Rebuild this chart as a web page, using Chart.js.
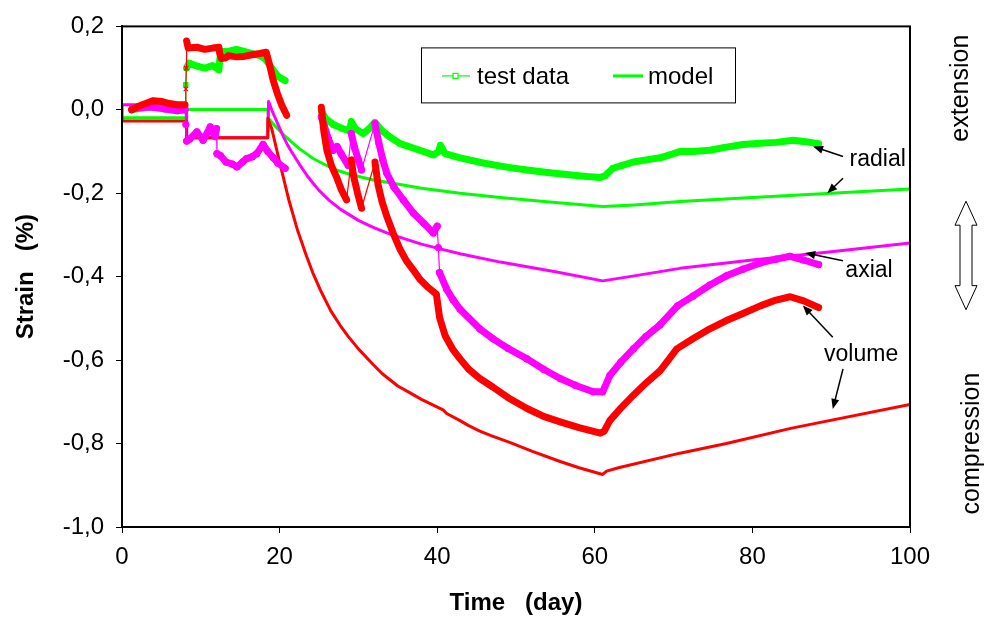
<!DOCTYPE html>
<html>
<head>
<meta charset="utf-8">
<script src="https://cdn.jsdelivr.net/npm/chart.js@4.4.0/dist/chart.umd.min.js"></script>
<style>
  html, body { margin: 0; padding: 0; background: #fff; }
  canvas { display: block; }
</style>
</head>
<body>
<canvas id="strainChart" width="988" height="618" style="width:988px;height:618px"></canvas>
<script>
// tick values
const timeTicks = [0, 20, 40, 60, 80, 100];
const strainTicks = [-1.0, -0.8, -0.6, -0.4, -0.2, 0.0, 0.2];

// test data [time (day), strain (%)], null = gap in recording
const volumeTest = [
  [1.2, 0.0], [2, 0.008], [3, 0.015], [4, 0.022], [5, 0.02], [6, 0.015], [7, 0.012], [8, 0.012],
  [8.1, 0.05], [8.15, 0.1], [8.2, 0.165], [8.4, 0.148], [9.5, 0.15], [10.5, 0.145], [11.5, 0.148],
  [12.3, 0.15], [12.4, 0.135], [12.6, 0.123], [13.2, 0.125], [13.5, 0.13], [14.5, 0.127], [15.5, 0.128],
  [16.5, 0.132], [17.5, 0.135], [18.3, 0.138], [18.7, 0.11], [19.2, 0.07], [19.7, 0.04], [20.3, 0.01],
  [20.9, -0.013], [23, null],
  [25.3, 0.006], [25.6, -0.05], [26, -0.097], [26.6, -0.135], [27.2, -0.16], [27.8, -0.19], [28.5, -0.216],
  [29.1, -0.12], [29.4, -0.16], [29.9, -0.2], [30.4, -0.236],
  [32.1, -0.125], [32.5, -0.18], [33, -0.22], [33.6, -0.255], [34.5, -0.3], [35.3, -0.335], [36.1, -0.362],
  [37, -0.385], [37.8, -0.406], [38.8, -0.425], [39.9, -0.442], [40.1, -0.47], [40.3, -0.498],
  [41, -0.541], [42, -0.575], [42.9, -0.597], [44, -0.622], [45.4, -0.644], [47.1, -0.665], [49, -0.69],
  [51.4, -0.716], [53.5, -0.735], [55.6, -0.748], [58, -0.762], [60.7, -0.775], [61.2, -0.77],
  [61.9, -0.745], [63.3, -0.715], [64.9, -0.684], [66.5, -0.655], [68.3, -0.625], [69.4, -0.598],
  [70.4, -0.573], [72.5, -0.548], [74.6, -0.525], [76.7, -0.505], [78.8, -0.488], [81, -0.47],
  [83, -0.456], [84.8, -0.448], [86.5, -0.458], [88.4, -0.474]
];
const axialTest = [
  [1.3, 0.002], [2.5, 0.006], [4, 0.006], [5.5, 0.002], [7, -0.002], [8, 0.0],
  [8.1, -0.035], [8.2, -0.075], [8.6, -0.07], [9.5, -0.053], [10.3, -0.073], [11.2, -0.041],
  [11.8, -0.064], [12.0, -0.045], [12.05, -0.105], [12.5, -0.11], [13.2, -0.125], [14, -0.13],
  [14.6, -0.137], [15.3, -0.125], [15.8, -0.117], [16.5, -0.113], [17.1, -0.105], [17.9, -0.083],
  [18.5, -0.1], [19.2, -0.115], [19.8, -0.128], [20.7, -0.14], [23, null],
  [25.3, -0.017], [25.7, -0.04], [26.2, -0.07], [26.8, -0.097], [27.3, -0.088], [27.8, -0.105],
  [28.7, -0.133], [29.1, -0.057], [29.5, -0.09], [30, -0.12], [30.4, -0.144],
  [32.1, -0.033], [32.6, -0.08], [33.1, -0.12], [33.6, -0.152], [34.5, -0.185], [35.7, -0.216],
  [37, -0.248], [38.3, -0.272], [39.5, -0.295], [40.0, -0.279], [40.15, -0.33], [40.3, -0.39],
  [41.2, -0.43], [42, -0.455], [42.9, -0.478], [45.4, -0.525], [47.1, -0.549], [49, -0.572],
  [51.4, -0.597], [53.5, -0.622], [55.6, -0.644], [57.5, -0.66], [59.8, -0.676], [61, -0.676],
  [61.9, -0.637], [63.3, -0.605], [64.9, -0.573], [66.5, -0.543], [68.3, -0.515], [70.5, -0.47],
  [72.5, -0.446], [74.6, -0.42], [76.7, -0.398], [78.8, -0.382], [81, -0.367], [83, -0.358],
  [84.8, -0.351], [86.5, -0.36], [88.4, -0.371]
];
const radialTest = [
  [1.3, 0.0], [2.5, 0.004], [4, 0.008], [5.5, 0.006], [7, 0.003], [8, 0.004],
  [8.1, 0.06], [8.2, 0.1], [8.5, 0.112], [9.5, 0.105], [10.5, 0.1], [11.5, 0.106], [12.3, 0.096],
  [12.4, 0.12], [12.6, 0.14], [13.5, 0.14], [14.5, 0.145], [15.5, 0.14], [16.5, 0.135], [17.5, 0.13],
  [18.2, 0.122], [19, 0.1], [19.8, 0.08], [20.7, 0.07], [23, null],
  [25.3, -0.002], [25.8, -0.02], [26.8, -0.035], [28, -0.045], [28.9, -0.05], [29.1, -0.028],
  [29.6, -0.045], [30.6, -0.057], [31.4, -0.045], [32.1, -0.03], [33, -0.05], [34, -0.065],
  [35.3, -0.081], [37.5, -0.095], [39.5, -0.108], [40.2, -0.1], [40.4, -0.085], [41, -0.105],
  [42.9, -0.115], [46, -0.128], [49, -0.138], [51.4, -0.144], [54, -0.15], [57, -0.156], [59, -0.16],
  [60.7, -0.162], [61.3, -0.158], [62.3, -0.14], [63.5, -0.133], [64.9, -0.125], [66.5, -0.12],
  [68.3, -0.115], [69.5, -0.108], [70.8, -0.1], [72.5, -0.1], [74.6, -0.097], [76.5, -0.09],
  [78.8, -0.083], [81, -0.08], [83, -0.078], [85.2, -0.073], [87, -0.077], [88.4, -0.081]
];

// model curves
const volumeModel = [
  [0, 0.01], [0, -0.027], [8.2, -0.027], [8.2, -0.067], [18.5, -0.067], [18.5, -0.02],
  [19.0, -0.045], [20.0, -0.125], [21.2, -0.218], [22.3, -0.29], [23.4, -0.35], [24.2, -0.39],
  [25.2, -0.433], [26.5, -0.482], [27.7, -0.517], [28.7, -0.543], [30, -0.573], [31.9, -0.611],
  [33, -0.632], [35, -0.662], [36.5, -0.678], [38, -0.694], [40.8, -0.72], [41.2, -0.728],
  [42.9, -0.745], [44, -0.757], [45.4, -0.77], [47, -0.782], [49.2, -0.797], [52, -0.818],
  [55.6, -0.843], [58, -0.858], [61, -0.874], [61.5, -0.866], [63, -0.858], [70.8, -0.823],
  [76.7, -0.8], [85, -0.763], [100, -0.706]
];
const axialModel = [
  [0, 0.012], [8.2, 0.012], [8.2, -0.067], [18.5, -0.067], [18.6, 0.02], [19.0, 0.0], [19.5, -0.022],
  [20.0, -0.044], [20.5, -0.065], [21.0, -0.084], [21.5, -0.1], [22.5, -0.13], [23.5, -0.158],
  [24.2, -0.175], [25, -0.193], [26.3, -0.217], [27.7, -0.238], [30, -0.265], [31.8, -0.281],
  [33.6, -0.295], [36, -0.31], [38, -0.322], [40.5, -0.334], [42.9, -0.345], [48, -0.365],
  [55, -0.388], [61, -0.41], [65, -0.398], [70.8, -0.38], [80, -0.36], [90, -0.34], [100, -0.319]
];
const radialModel = [
  [0, -0.019], [8.2, -0.019], [8.2, 0.001], [18.5, 0.001], [18.6, -0.02], [19.3, -0.036],
  [20, -0.05], [20.8, -0.065], [21.7, -0.08], [22.5, -0.093], [23.4, -0.105], [24.2, -0.116],
  [25.1, -0.125], [27, -0.143], [29, -0.155], [31.9, -0.168], [34.4, -0.176], [38, -0.188],
  [42.9, -0.2], [48, -0.21], [55, -0.222], [61, -0.232], [65, -0.228], [70.8, -0.22],
  [80, -0.21], [90, -0.2], [100, -0.19]
];

// annotation labels with arrows: [text, labelT, labelS, [[tailT, tailS, headT, headS], ...]]
const labels = [
  ['radial', 95.9, -0.119, [[91.5, -0.112, 87.7, -0.088], [91.5, -0.164, 89.5, -0.2]]],
  ['axial', 94.8, -0.386, [[91.5, -0.362, 86.7, -0.343]]],
  ['volume', 93.8, -0.588, [[90.2, -0.545, 86.4, -0.469], [91.5, -0.621, 90.2, -0.717]]]
];

const RED = '#ff0000', MAGENTA = '#ff00ff', GREEN = '#00ff00';
const FONT = "'Liberation Sans', Arial, sans-serif";

const toPoints = arr => arr.map(([x, y]) => ({ x, y }));

// thin connector where the record jumps, thick band elsewhere
function jumpWidth(c) {
  const dx = c.p1.parsed.x - c.p0.parsed.x;
  const dy = c.p1.parsed.y - c.p0.parsed.y;
  if (dy > 0.05 || (dx < 0.25 && Math.abs(dy) > 0.03)) return 1.2;
  return 7;
}

function testSet(data, color, style) {
  return {
    data: toPoints(data),
    showLine: true,
    spanGaps: false,
    borderColor: color,
    backgroundColor: color,
    borderWidth: 7,
    borderJoinStyle: 'round',
    borderCapStyle: 'round',
    pointStyle: style,
    pointRadius: 3,
    pointBorderWidth: 1.2,
    pointBorderColor: color,
    pointBackgroundColor: color,
    segment: { borderWidth: jumpWidth }
  };
}

function modelSet(data, color) {
  return {
    data: toPoints(data),
    showLine: true,
    borderColor: color,
    borderWidth: 3,
    borderJoinStyle: 'round',
    pointRadius: 0,
    tension: 0
  };
}

function arrow(ctx, x1, y1, x2, y2) {
  const ang = Math.atan2(y2 - y1, x2 - x1);
  const len = 10, w = 4;
  ctx.beginPath();
  ctx.moveTo(x1, y1);
  ctx.lineTo(x2 - Math.cos(ang) * len * 0.8, y2 - Math.sin(ang) * len * 0.8);
  ctx.stroke();
  ctx.beginPath();
  ctx.moveTo(x2, y2);
  ctx.lineTo(x2 - Math.cos(ang) * len - Math.sin(ang) * w, y2 - Math.sin(ang) * len + Math.cos(ang) * w);
  ctx.lineTo(x2 - Math.cos(ang) * len + Math.sin(ang) * w, y2 - Math.sin(ang) * len - Math.cos(ang) * w);
  ctx.closePath();
  ctx.fill();
}

const overlay = {
  id: 'overlay',
  afterDatasetsDraw(chart) {
    const { ctx, chartArea: a, scales: { x, y } } = chart;
    ctx.save();
    ctx.strokeStyle = '#000';
    ctx.fillStyle = '#000';

    // plot frame
    ctx.lineWidth = 2;
    ctx.strokeRect(a.left, a.top, a.right - a.left, a.bottom - a.top);

    // legend
    const lx = a.left + 299, ly = a.top + 21, lw = 314, lh = 55;
    ctx.fillStyle = '#fff';
    ctx.fillRect(lx, ly, lw, lh);
    ctx.lineWidth = 1;
    ctx.strokeRect(lx + 0.5, ly + 0.5, lw, lh);
    const my = ly + 28.5;
    ctx.strokeStyle = GREEN;
    ctx.lineWidth = 1.2;
    ctx.beginPath(); ctx.moveTo(lx + 21, my); ctx.lineTo(lx + 49, my); ctx.stroke();
    ctx.fillStyle = '#fff';
    ctx.fillRect(lx + 32, my - 2.5, 5, 5);
    ctx.strokeRect(lx + 32, my - 2.5, 5, 5);
    ctx.lineWidth = 3;
    ctx.beginPath(); ctx.moveTo(lx + 192, my); ctx.lineTo(lx + 222, my); ctx.stroke();
    ctx.fillStyle = '#000';
    ctx.font = '24px ' + FONT;
    ctx.textBaseline = 'middle';
    ctx.textAlign = 'left';
    ctx.fillText('test data', lx + 56, my + 1);
    ctx.fillText('model', lx + 227, my + 1);

    // curve labels and arrows
    ctx.font = '23px ' + FONT;
    ctx.textAlign = 'center';
    ctx.strokeStyle = '#000';
    ctx.lineWidth = 1.5;
    labels.forEach(([text, t, s, arrows]) => {
      ctx.fillText(text, x.getPixelForValue(t), y.getPixelForValue(s));
      arrows.forEach(([t1, s1, t2, s2]) => {
        arrow(ctx, x.getPixelForValue(t1), y.getPixelForValue(s1), x.getPixelForValue(t2), y.getPixelForValue(s2));
      });
    });

    // right side: extension / compression
    ctx.font = '25px ' + FONT;
    const side = [['extension', a.right + 51, 0.052], ['compression', a.right + 62, -0.8]];
    side.forEach(([text, px, s]) => {
      ctx.save();
      ctx.translate(px, y.getPixelForValue(s));
      ctx.rotate(-Math.PI / 2);
      ctx.fillText(text, 0, 0);
      ctx.restore();
    });

    // double arrow
    const cx = a.right + 56;
    const y0 = y.getPixelForValue(-0.219), y1 = y.getPixelForValue(-0.479);
    const hw = 11, sw = 6, hh = 24;
    ctx.beginPath();
    ctx.moveTo(cx, y0);
    ctx.lineTo(cx + hw, y0 + hh);
    ctx.lineTo(cx + sw, y0 + hh);
    ctx.lineTo(cx + sw, y1 - hh);
    ctx.lineTo(cx + hw, y1 - hh);
    ctx.lineTo(cx, y1);
    ctx.lineTo(cx - hw, y1 - hh);
    ctx.lineTo(cx - sw, y1 - hh);
    ctx.lineTo(cx - sw, y0 + hh);
    ctx.lineTo(cx - hw, y0 + hh);
    ctx.closePath();
    ctx.fillStyle = '#fff';
    ctx.fill();
    ctx.lineWidth = 1;
    ctx.stroke();
    ctx.restore();
  }
};

const tickFont = { family: FONT, size: 24 };
const titleFont = { family: FONT, size: 24, weight: 'bold' };

new Chart(document.getElementById('strainChart').getContext('2d'), {
  type: 'scatter',
  data: {
    datasets: [
      testSet(volumeTest, RED, 'crossRot'),
      testSet(axialTest, MAGENTA, 'circle'),
      testSet(radialTest, GREEN, 'rect'),
      modelSet(volumeModel, RED),
      modelSet(axialModel, MAGENTA),
      modelSet(radialModel, GREEN)
    ]
  },
  options: {
    responsive: false,
    animation: false,
    events: [],
    layout: { padding: { top: 22, right: 78, left: 0, bottom: 0 } },
    plugins: { legend: { display: false }, tooltip: { enabled: false } },
    scales: {
      x: {
        type: 'linear',
        min: 0,
        max: 100,
        afterBuildTicks: s => { s.ticks = timeTicks.map(v => ({ value: v })); },
        afterFit: s => { s.height = 91; },
        ticks: { font: tickFont, color: '#000', padding: 10, maxRotation: 0 },
        grid: { drawOnChartArea: false, tickLength: 6, color: '#000', lineWidth: 1 },
        border: { color: '#000', width: 2 },
        title: { display: true, text: 'Time   (day)', font: titleFont, color: '#000', padding: { top: 2, bottom: 0 } }
      },
      y: {
        type: 'linear',
        min: -1.0,
        max: 0.2,
        afterBuildTicks: s => { s.ticks = strainTicks.map(v => ({ value: v })); },
        afterFit: s => { s.width = 122; },
        ticks: {
          font: tickFont,
          color: '#000',
          padding: 12,
          callback: v => (Math.abs(v) < 1e-9 ? '0,0' : v.toFixed(1).replace('.', ','))
        },
        grid: { drawOnChartArea: false, tickLength: 6, color: '#000', lineWidth: 1 },
        border: { color: '#000', width: 2 },
        title: { display: true, text: 'Strain   (%)', font: titleFont, color: '#000', padding: { top: 12, bottom: 0 } }
      }
    }
  },
  plugins: [overlay]
});
</script>
</body>
</html>
